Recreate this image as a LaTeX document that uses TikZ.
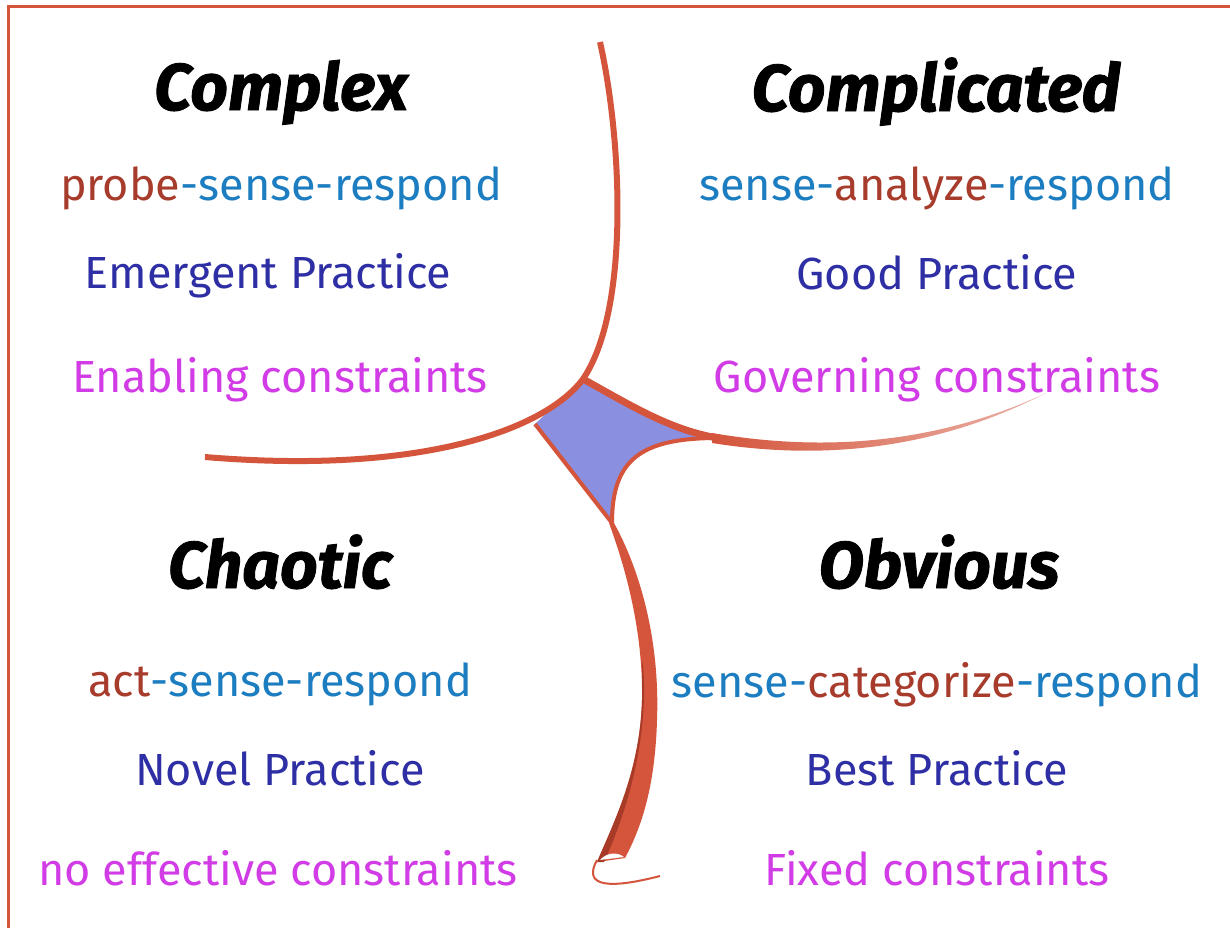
\documentclass[tikz,border=0pt]{standalone}
\usepackage{fontspec}
\setmainfont{Fira Sans}
\newfontfamily\headfont{Fira Sans}[BoldItalicFeatures={FakeBold=1.3}]
\definecolor{lred}{HTML}{D4553C}
\definecolor{dred}{HTML}{A83A28}
\definecolor{cfill}{HTML}{8A8FE0}
\definecolor{tbrown}{HTML}{A83C2C}
\definecolor{tblue}{HTML}{1C7EC0}
\definecolor{tdark}{HTML}{2F2FA5}
\definecolor{tmag}{HTML}{D23CE6}
\tikzset{
  head/.style={anchor=base, font=\headfont\fontsize{66}{66}\selectfont\bfseries\itshape, text=black, inner sep=0pt},
  body/.style={anchor=base, font=\fontsize{45}{45}\selectfont, inner sep=0pt},
  curve/.style={draw=lred, line width=6pt},
}
\begin{document}
\begin{tikzpicture}[x=1pt, y=-1pt]
\useasboundingbox (0,0) rectangle (1230,927);
\fill[white] (0,0) rectangle (1230,927);
% frame
\draw[lred, line width=2.5pt] (8.5,940) -- (8.5,6.5) -- (1240,6.5);
% key points
\coordinate (T) at (583,379);
\coordinate (L) at (535,424);
\coordinate (B) at (612,523);
\coordinate (R) at (718,438);
% centre fill
\fill[cfill] (T) .. controls (630,405) and (670,430) .. (R)
  .. controls (640,438) and (612,460) .. (B) -- (L) -- cycle;
% right tapered curve
\shade[left color=lred, right color=lred!45] (712,433) .. controls (800,448) and (920,452) .. (1046,393)
  .. controls (920,458) and (800,457) .. (712,443) -- cycle;
% lower ribbon
\fill[lred] (614,523) .. controls (640,570) and (660,640) .. (657,720)
  .. controls (655,790) and (640,830) .. (625,858) -- (597,862)
  .. controls (615,820) and (640,770) .. (642,700)
  .. controls (643,640) and (630,580) .. (609,523) -- cycle;
\fill[dred] (597,862) .. controls (615,820) and (640,770) .. (642,700)
  .. controls (642.5,680) and (642,670) .. (642,660)
  .. controls (647,690) and (646,770) .. (604,862) -- cycle;
\draw[lred, line width=2pt] (597,860) .. controls (585,882) and (598,892) .. (660,876);
\fill[white] (600,860) .. controls (607,852) and (618,852) .. (624,857) -- cycle;
% centre edges
\draw[lred, line width=7pt] (T) .. controls (630,405) and (670,430) .. (R);
\draw[lred, line width=4pt] (R) .. controls (640,438) and (612,460) .. (B);
\draw[lred, line width=4pt] (B) -- (L);
% complex boundary
\draw[curve] (600,42) .. controls (622,140) and (630,310) .. (T)
  .. controls (545,430) and (420,475) .. (205,457);
% texts
\node[head] (complex) at (281,110) {Complex};
\node[body] (c1) at (281,200) {\textcolor{tbrown}{probe}\textcolor{tblue}{-sense-respond}};
\node[body, text=tdark] (c2) at (268,288) {Emergent Practice};
\node[body, text=tmag] (c3) at (280,392) {Enabling constraints};
\node[head] (complicated) at (936,111) {Complicated};
\node[body] (d1) at (937,200) {\textcolor{tblue}{sense-}\textcolor{tbrown}{analyze}\textcolor{tblue}{-respond}};
\node[body, text=tdark] (d2) at (937,289) {Good Practice};
\node[body, text=tmag] (d3) at (937,392) {Governing constraints};
\node[head] (chaotic) at (280,588) {Chaotic};
\node[body] (a1) at (280,696) {\textcolor{tbrown}{act}\textcolor{tblue}{-sense-respond}};
\node[body, text=tdark] (a2) at (280,785) {Novel Practice};
\node[body, text=tmag] (a3) at (278,885) {no effective constraints};
\node[head] (obvious) at (939,588) {Obvious};
\node[body] (o1) at (937,697) {\textcolor{tblue}{sense-}\textcolor{tbrown}{categorize}\textcolor{tblue}{-respond}};
\node[body, text=tdark] (o2) at (937,785) {Best Practice};
\node[body, text=tmag] (o3) at (937,885) {Fixed constraints};
\end{tikzpicture}
\end{document}
